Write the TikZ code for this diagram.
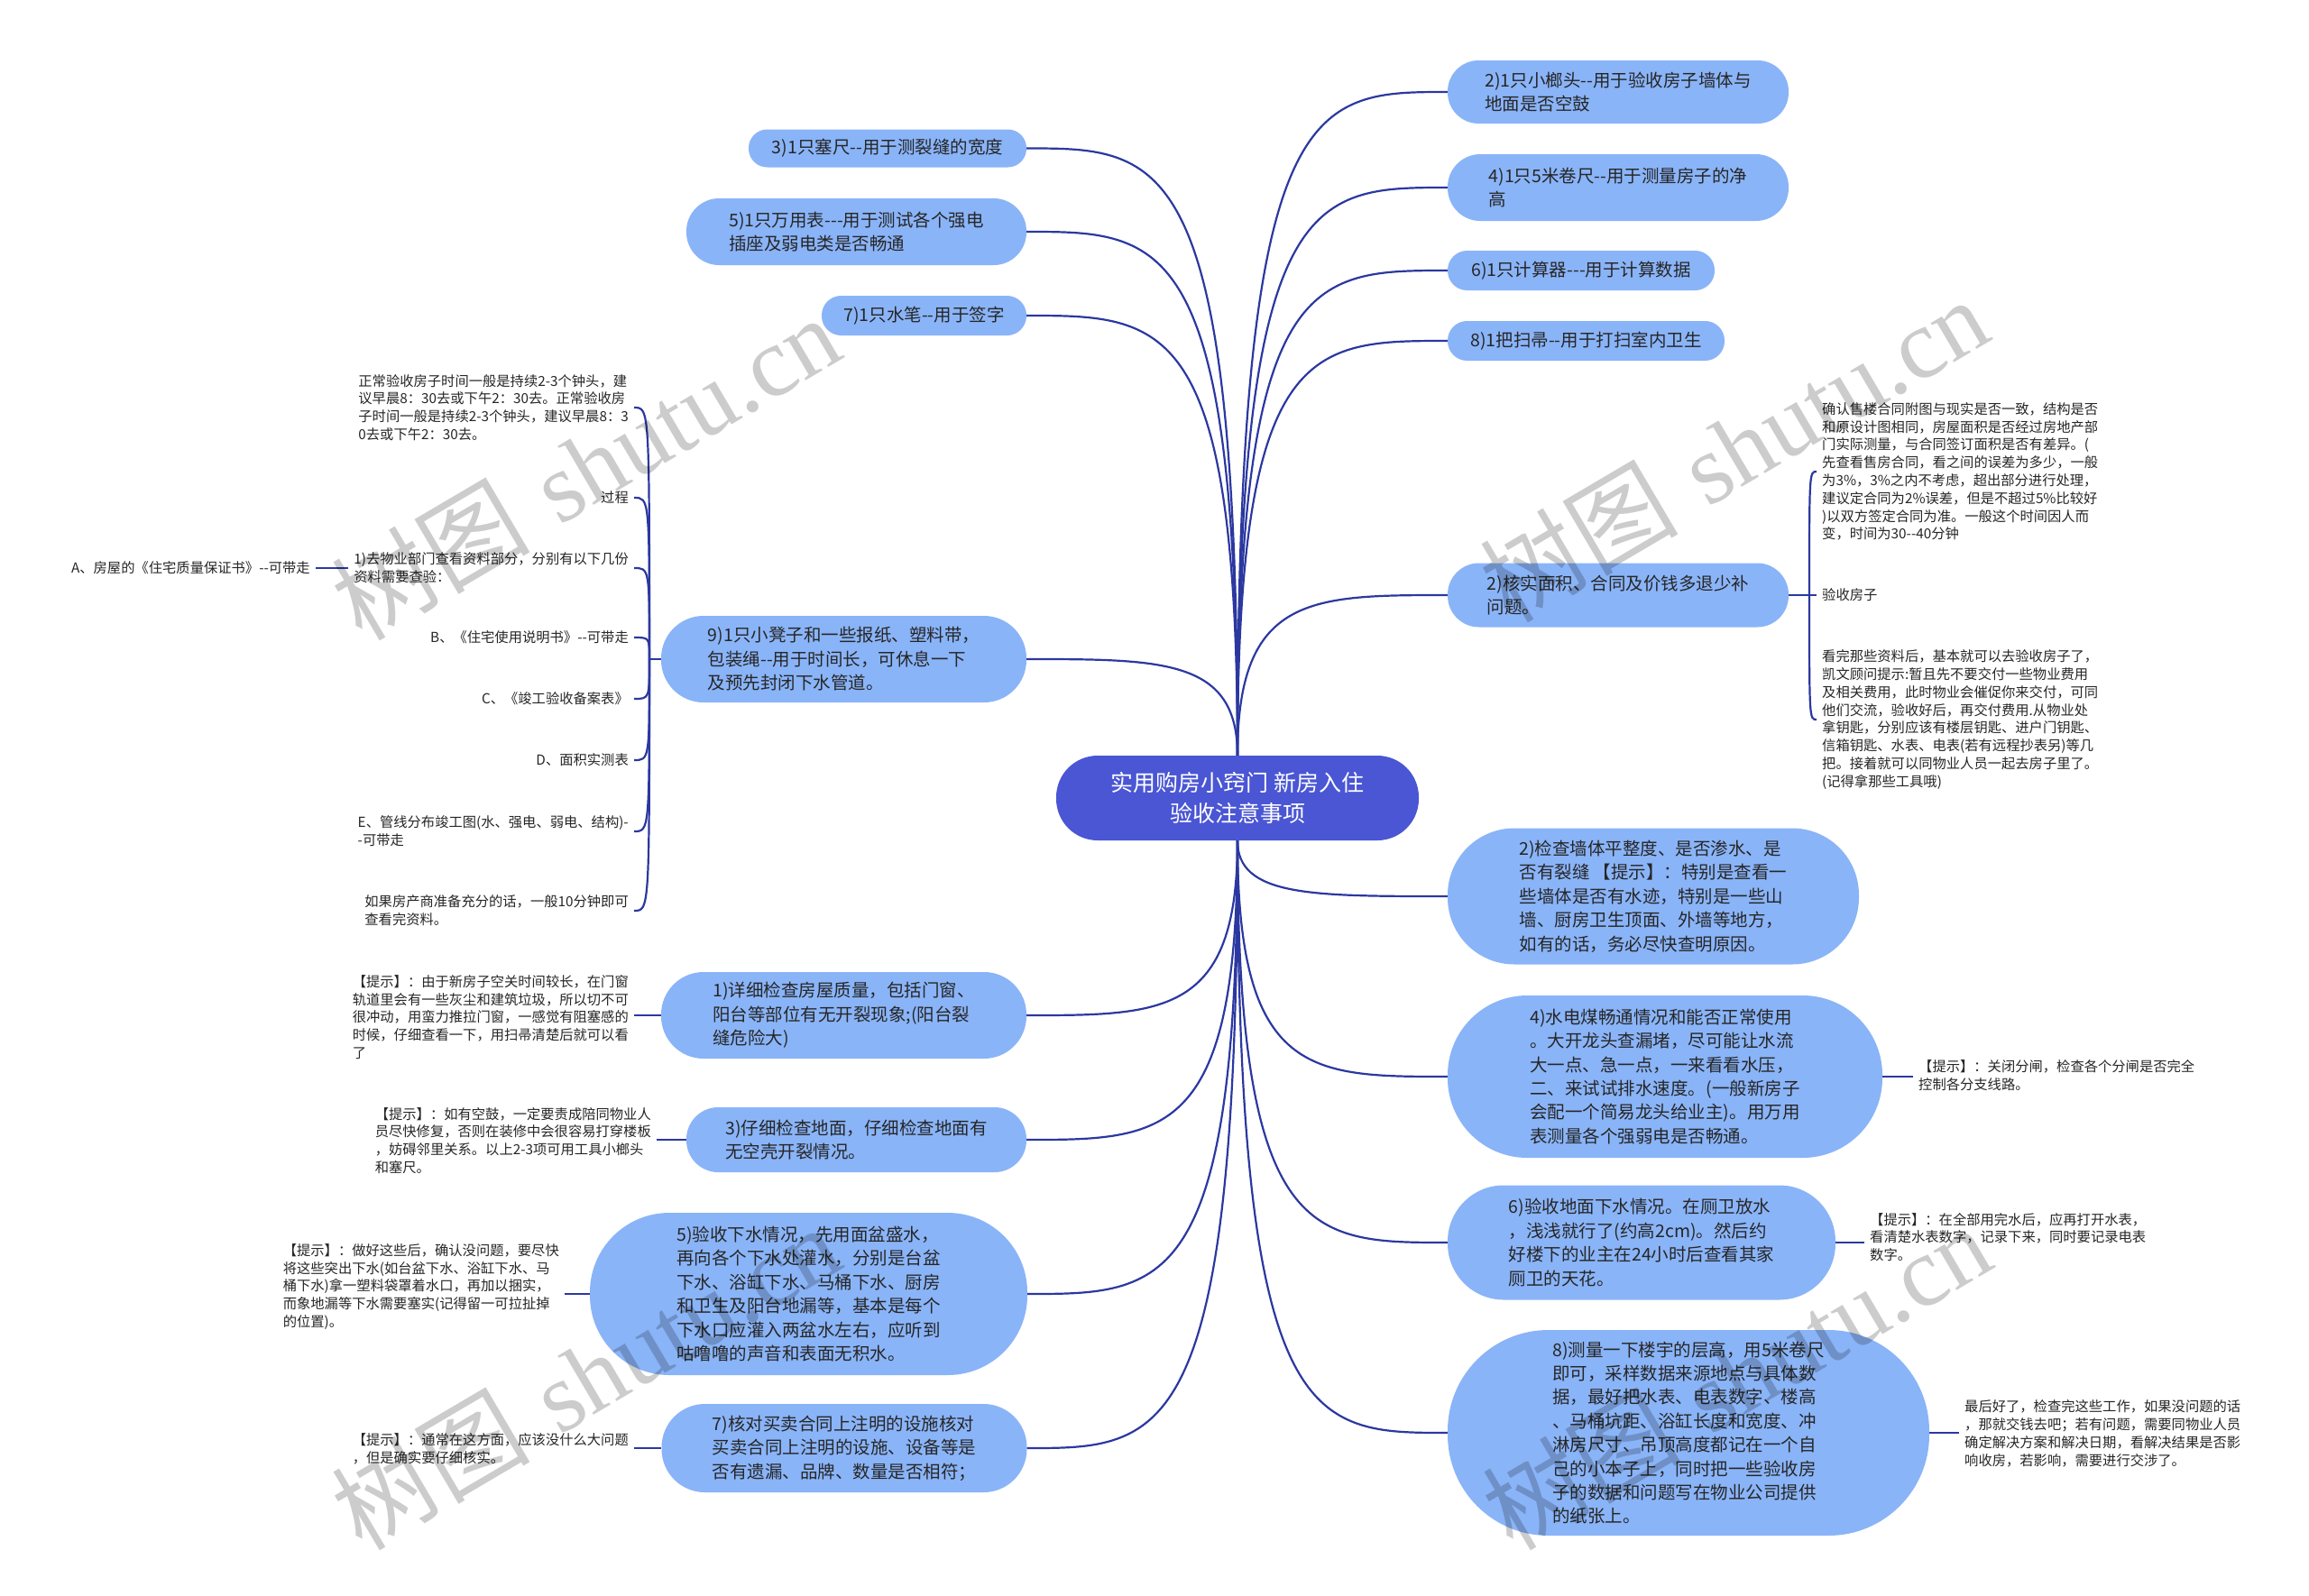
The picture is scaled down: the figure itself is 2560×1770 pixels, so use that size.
\documentclass[tikz,border=0pt]{standalone}
\usepackage{fontspec}
\newfontfamily\cjk{Noto Sans CJK SC}
\newfontfamily\wmlatin{Liberation Serif}
\usetikzlibrary{calc}
\definecolor{nodeblue}{HTML}{8AB4F8}
\definecolor{rootblue}{HTML}{4A56D4}
\definecolor{linkblue}{HTML}{2B38A0}
\definecolor{txt}{HTML}{262626}
\begin{document}
\begin{tikzpicture}[x=1pt,y=-1pt,
  link/.style={draw=linkblue, line width=2.2pt},
  mm/.style={to path={let \p1=(\tikztostart), \p2=(\tikztotarget) in .. controls (\x1,\y2) and ({\x1+0.35*(\x2-\x1)},\y2) .. (\p2)}},
  br/.style={to path={let \p1=(\tikztostart), \p2=(\tikztotarget) in .. controls (\x1,\y2) and (\x1,\y2) .. (\p2)}},
  pill/.style n args={2}{fill=nodeblue, draw=none, text=txt, align=left, inner sep=0pt,
     minimum width=#1pt, minimum height=#2pt, rounded corners=#2pt*0.49,
     font=\cjk\fontsize{19.5}{26.4}\selectfont},
  root/.style={fill=rootblue, text=white, align=center, inner sep=0pt, minimum width=402pt,
     minimum height=94pt, rounded corners=46pt, font=\cjk\fontsize{25}{34}\selectfont},
  tip/.style={text=txt, align=left, inner xsep=6pt, inner ysep=2pt, font=\cjk\fontsize{15.3}{19.8}\selectfont},
  wm/.style={text=black, text opacity=0.2, rotate=30.5, inner sep=0pt, font=\fontsize{110}{110}\selectfont}
]
\useasboundingbox (0,0) rectangle (2560,1770);
\fill[white] (0,0) rectangle (2560,1770);

% root
\node[root] (c) at (1372,885) {实用购房小窍门 新房入住\\验收注意事项};

% right main nodes
\node[pill={378}{70}] (r1) at (1794,102) {2)1只小榔头--用于验收房子墙体与\\地面是否空鼓};
\node[pill={378}{74}] (r2) at (1794,208) {4)1只5米卷尺--用于测量房子的净\\高};
\node[pill={296}{44}] (r3) at (1753,300) {6)1只计算器---用于计算数据};
\node[pill={307}{44}] (r4) at (1758.5,378) {8)1把扫帚--用于打扫室内卫生};
\node[pill={378}{71}] (r5) at (1794,660) {2)核实面积、合同及价钱多退少补\\问题。};
\node[pill={456}{151}] (r6) at (1833,994) {2)检查墙体平整度、是否渗水、是\\否有裂缝 【提示】：特别是查看一\\些墙体是否有水迹，特别是一些山\\墙、厨房卫生顶面、外墙等地方，\\如有的话，务必尽快查明原因。};
\node[pill={482}{180}] (r7) at (1846,1194) {4)水电煤畅通情况和能否正常使用\\。大开龙头查漏堵，尽可能让水流\\大一点、急一点，一来看看水压，\\二、来试试排水速度。(一般新房子\\会配一个简易龙头给业主)。用万用\\表测量各个强弱电是否畅通。};
\node[pill={430}{127}] (r8) at (1820,1378) {6)验收地面下水情况。在厕卫放水\\，浅浅就行了(约高2cm)。然后约\\好楼下的业主在24小时后查看其家\\厕卫的天花。};
\node[pill={534}{228}] (r9) at (1872,1589) {8)测量一下楼宇的层高，用5米卷尺\\即可，采样数据来源地点与具体数\\据，最好把水表、电表数字、楼高\\、马桶坑距、浴缸长度和宽度、冲\\淋房尺寸、吊顶高度都记在一个自\\己的小本子上，同时把一些验收房\\子的数据和问题写在物业公司提供\\的纸张上。};

% left main nodes
\node[pill={308}{42}] (l1) at (984,164.5) {3)1只塞尺--用于测裂缝的宽度};
\node[pill={377}{74}] (l2) at (949.5,257) {5)1只万用表---用于测试各个强电\\插座及弱电类是否畅通};
\node[pill={227}{44}] (l3) at (1024.5,350) {7)1只水笔--用于签字};
\node[pill={405}{96}] (l4) at (935.5,731) {9)1只小凳子和一些报纸、塑料带，\\包装绳--用于时间长，可休息一下\\及预先封闭下水管道。};
\node[pill={405}{96}] (l5) at (935.5,1126) {1)详细检查房屋质量，包括门窗、\\阳台等部位有无开裂现象;(阳台裂\\缝危险大)};
\node[pill={377}{72}] (l6) at (949.5,1264) {3)仔细检查地面，仔细检查地面有\\无空壳开裂情况。};
\node[pill={485}{180}] (l7) at (896.5,1435) {5)验收下水情况，先用面盆盛水，\\再向各个下水处灌水，分别是台盆\\下水、浴缸下水、马桶下水、厨房\\和卫生及阳台地漏等，基本是每个\\下水口应灌入两盆水左右，应听到\\咕噜噜的声音和表面无积水。};
\node[pill={405}{98}] (l8) at (936,1606) {7)核对买卖合同上注明的设施核对\\买卖合同上注明的设施、设备等是\\否有遗漏、品牌、数量是否相符；};

% children of 9)
\node[tip, anchor=east] (n9a) at (703,452) {正常验收房子时间一般是持续2-3个钟头，建\\议早晨8：30去或下午2：30去。正常验收房\\子时间一般是持续2-3个钟头，建议早晨8：3\\0去或下午2：30去。};
\node[tip, anchor=east] (n9b) at (703,552) {过程};
\node[tip, anchor=east] (n9c) at (703,630) {1)去物业部门查看资料部分，分别有以下几份\\资料需要查验：};
\node[tip, anchor=east] (n9d) at (703,707) {B、《住宅使用说明书》--可带走};
\node[tip, anchor=east] (n9e) at (703,775) {C、《竣工验收备案表》};
\node[tip, anchor=east] (n9f) at (703,843) {D、面积实测表};
\node[tip, anchor=east] (n9g) at (703,922) {E、管线分布竣工图(水、强电、弱电、结构)-\\-可带走};
\node[tip, anchor=east] (n9h) at (703,1010) {如果房产商准备充分的话，一般10分钟即可\\查看完资料。};
\node[tip, anchor=east] (nA) at (350,630) {A、房屋的《住宅质量保证书》--可带走};

% children of right 2)
\node[tip, anchor=west] (m1) at (2014,523) {确认售楼合同附图与现实是否一致，结构是否\\和原设计图相同，房屋面积是否经过房地产部\\门实际测量，与合同签订面积是否有差异。(\\先查看售房合同，看之间的误差为多少，一般\\为3\%，3\%之内不考虑，超出部分进行处理，\\建议定合同为2\%误差，但是不超过5\%比较好\\)以双方签定合同为准。一般这个时间因人而\\变，时间为30--40分钟};
\node[tip, anchor=west] (m2) at (2014,660) {验收房子};
\node[tip, anchor=west] (m3) at (2014,798) {看完那些资料后，基本就可以去验收房子了，\\凯文顾问提示:暂且先不要交付一些物业费用\\及相关费用，此时物业会催促你来交付，可同\\他们交流，验收好后，再交付费用.从物业处\\拿钥匙，分别应该有楼层钥匙、进户门钥匙、\\信箱钥匙、水表、电表(若有远程抄表另)等几\\把。接着就可以同物业人员一起去房子里了。\\(记得拿那些工具哦)};

% tips left
\node[tip, anchor=east] (t5) at (703,1128) {【提示】：由于新房子空关时间较长，在门窗\\轨道里会有一些灰尘和建筑垃圾，所以切不可\\很冲动，用蛮力推拉门窗，一感觉有阻塞感的\\时候，仔细查看一下，用扫帚清楚后就可以看\\了};
\node[tip, anchor=east] (t6) at (728,1265) {【提示】：如有空鼓，一定要责成陪同物业人\\员尽快修复，否则在装修中会很容易打穿楼板\\，妨碍邻里关系。以上2-3项可用工具小榔头\\和塞尺。};
\node[tip, anchor=east] (t7) at (626,1427) {【提示】：做好这些后，确认没问题，要尽快\\将这些突出下水(如台盆下水、浴缸下水、马\\桶下水)拿一塑料袋罩着水口，再加以捆实，\\而象地漏等下水需要塞实(记得留一可拉扯掉\\的位置)。};
\node[tip, anchor=east] (t8) at (703,1607) {【提示】：通常在这方面，应该没什么大问题\\，但是确实要仔细核实。};

% tips right
\node[tip, anchor=west] (tr7) at (2121,1193) {【提示】：关闭分闸，检查各个分闸是否完全\\控制各分支线路。};
\node[tip, anchor=west] (tr8) at (2067,1372) {【提示】：在全部用完水后，应再打开水表，\\看清楚水表数字，记录下来，同时要记录电表\\数字。};
\node[tip, anchor=west] (tr9) at (2172,1590) {最后好了，检查完这些工作，如果没问题的话\\，那就交钱去吧；若有问题，需要同物业人员\\确定解决方案和解决日期，看解决结果是否影\\响收房，若影响，需要进行交涉了。};

% connectors from root
\foreach \q in {r1,r2,r3,r4,r5} \draw[link] (c.north) to[mm] (\q.west);
\foreach \q in {r6,r7,r8,r9} \draw[link] (c.south) to[mm] (\q.west);
\foreach \q in {l1,l2,l3,l4} \draw[link] (c.north) to[mm] (\q.east);
\foreach \q in {l5,l6,l7,l8} \draw[link] (c.south) to[mm] (\q.east);

% bracket of 9)
\coordinate (j4) at (720,731);
\draw[link] (l4.west) -- (j4);
\foreach \q in {n9a,n9b,n9c,n9d,n9e,n9f,n9g,n9h} \draw[link] (j4) to[br] (\q.east);
\draw[link] (n9c.west) -- (nA.east);

% bracket of right 2)
\coordinate (j5) at (2006,660);
\draw[link] (r5.east) -- (j5);
\draw[link] (j5) to[br] (m1.west);
\draw[link] (j5) -- (m2.west);
\draw[link] (j5) to[br] (m3.west);

% tip connectors
\draw[link] (l5.west) -- (l5.west -| t5.east);
\draw[link] (l6.west) -- (l6.west -| t6.east);
\draw[link] (l7.west) -- (l7.west -| t7.east);
\draw[link] (l8.west) -- (l8.west -| t8.east);
\draw[link] (r7.east) -- (r7.east -| tr7.west);
\draw[link] (r8.east) -- (r8.east -| tr8.west);
\draw[link] (r9.east) -- (r9.east -| tr9.west);

% watermarks
\node[wm] (wm1) at (649,518) {{\cjk 树图} {\wmlatin shutu.cn}};
\node[wm] (wm2) at (1922,498) {{\cjk 树图} {\wmlatin shutu.cn}};
\node[wm] (wm3) at (649,1527) {{\cjk 树图} {\wmlatin shutu.cn}};
\node[wm] (wm4) at (1925,1527) {{\cjk 树图} {\wmlatin shutu.cn}};
\end{tikzpicture}
\end{document}
